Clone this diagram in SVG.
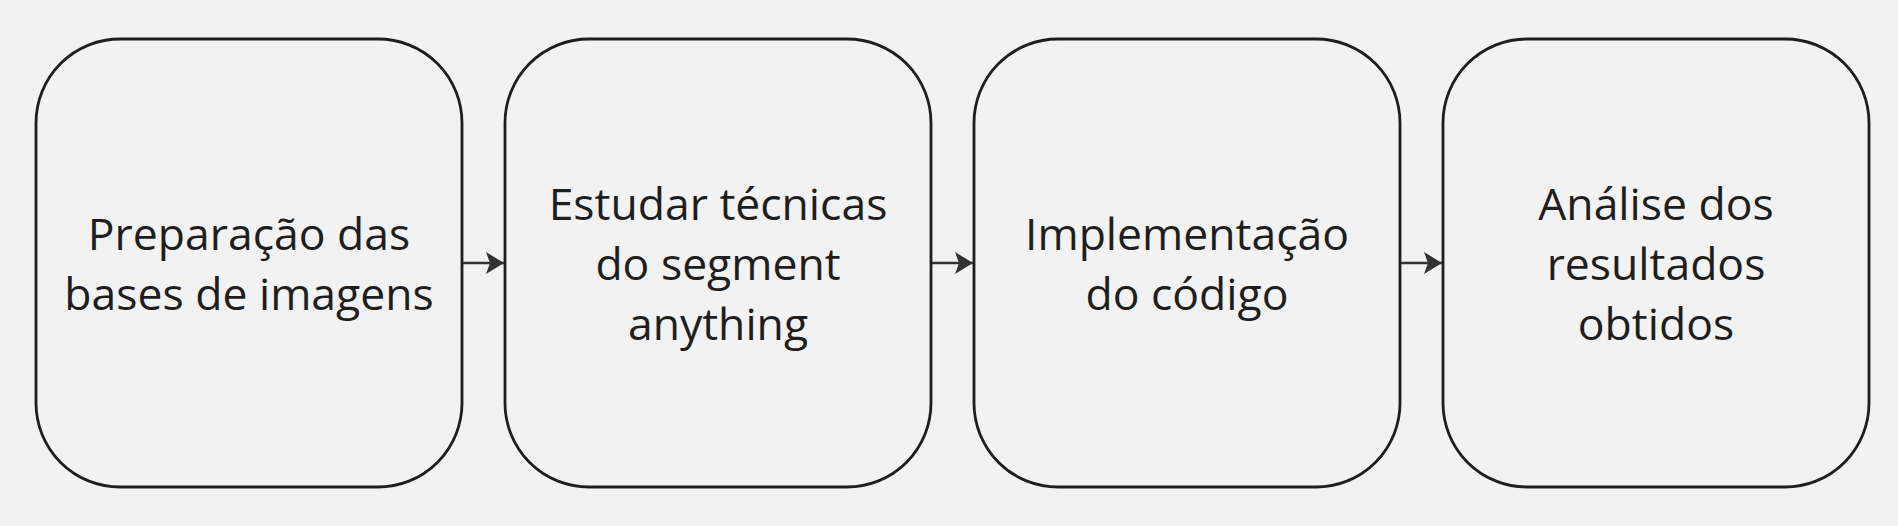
<svg xmlns="http://www.w3.org/2000/svg" width="1898" height="526" viewBox="0 0 1898 526">
<style>
.box{fill:#f2f2f2;stroke:#1e1e1e;stroke-width:2.8}
.lbl{font-family:"Open Sans",sans-serif;font-size:44.5px;fill:#1e1e1e;text-anchor:middle}
.conn{stroke:#333;stroke-width:2.6;fill:none}
</style>
<defs>
<marker id="arr" markerUnits="userSpaceOnUse" markerWidth="20" markerHeight="24" refX="19" refY="12" orient="auto">
<path d="M1,1 L19,12 L1,23 L5,12 Z" fill="#333"/>
</marker>
</defs>
<rect width="1898" height="526" fill="#f2f2f2"/>
<g id="n1"><rect class="box" x="36" y="39" width="426" height="448" rx="84" ry="84"/>
<text class="lbl" x="249" y="250">Preparação das</text><text class="lbl" x="249" y="310">bases de imagens</text></g>
<g id="n2"><rect class="box" x="505" y="39" width="426" height="448" rx="84" ry="84"/>
<text class="lbl" x="718" y="220">Estudar técnicas</text><text class="lbl" x="718" y="280">do segment</text><text class="lbl" x="718" y="340">anything</text></g>
<g id="n3"><rect class="box" x="974" y="39" width="426" height="448" rx="84" ry="84"/>
<text class="lbl" x="1187" y="250">Implementação</text><text class="lbl" x="1187" y="310">do código</text></g>
<g id="n4"><rect class="box" x="1443" y="39" width="426" height="448" rx="84" ry="84"/>
<text class="lbl" x="1656" y="220">Análise dos</text><text class="lbl" x="1656" y="280">resultados</text><text class="lbl" x="1656" y="340">obtidos</text></g>
<g id="connectors">
<line class="conn" x1="463" y1="263" x2="504" y2="263" marker-end="url(#arr)"/>
<line class="conn" x1="932" y1="263" x2="973" y2="263" marker-end="url(#arr)"/>
<line class="conn" x1="1401" y1="263" x2="1442" y2="263" marker-end="url(#arr)"/>
</g>
</svg>
